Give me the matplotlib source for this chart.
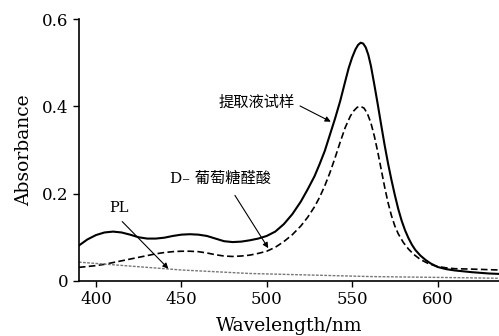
import matplotlib
matplotlib.use("Agg")
import matplotlib.pyplot as plt

# extract sample (solid)
wl_sample = [390, 395, 400, 405, 410, 415, 420, 425, 430, 435, 440, 445, 450, 455,
             460, 465, 470, 475, 480, 485, 490, 495, 500, 505, 510, 515, 520, 524,
             528, 531, 534, 537, 540, 543, 546, 548, 550, 552, 553.5, 555, 556.5,
             558, 559.5, 561, 563, 565, 567, 569, 571, 573, 575, 577, 579, 581,
             583, 585, 587, 590, 593, 596, 600, 605, 610, 620, 630, 636]
abs_sample = [0.081, 0.095, 0.105, 0.111, 0.113, 0.111, 0.106, 0.100, 0.097, 0.097,
              0.099, 0.103, 0.106, 0.107, 0.106, 0.103, 0.097, 0.091, 0.089, 0.090,
              0.093, 0.097, 0.103, 0.113, 0.130, 0.153, 0.182, 0.210, 0.240, 0.268,
              0.298, 0.335, 0.372, 0.412, 0.458, 0.488, 0.512, 0.531, 0.541, 0.546,
              0.544, 0.535, 0.518, 0.493, 0.450, 0.405, 0.358, 0.312, 0.270, 0.232,
              0.197, 0.165, 0.138, 0.116, 0.098, 0.083, 0.071, 0.058, 0.048, 0.040,
              0.032, 0.027, 0.024, 0.020, 0.017, 0.016]

# D-glucuronic acid (dashed)
wl_gluc = [390, 395, 400, 405, 410, 415, 420, 425, 430, 435, 440, 445, 450, 455,
           460, 465, 470, 475, 480, 485, 490, 495, 500, 505, 510, 515, 520, 524,
           528, 531, 534, 537, 540, 543, 546, 549, 551, 553, 555, 557, 559, 561,
           563, 565, 567, 569, 571, 573, 575, 577, 580, 583, 586, 590, 595, 600,
           605, 610, 620, 636]
abs_gluc = [0.031, 0.033, 0.035, 0.038, 0.042, 0.046, 0.050, 0.054, 0.058, 0.062,
            0.065, 0.067, 0.068, 0.068, 0.067, 0.064, 0.060, 0.057, 0.056, 0.057,
            0.059, 0.063, 0.068, 0.077, 0.090, 0.106, 0.126, 0.146, 0.170, 0.192,
            0.218, 0.248, 0.282, 0.318, 0.352, 0.378, 0.390, 0.398, 0.400, 0.396,
            0.383, 0.362, 0.332, 0.296, 0.256, 0.216, 0.180, 0.150, 0.126, 0.108,
            0.088, 0.073, 0.061, 0.049, 0.039, 0.033, 0.030, 0.028, 0.027, 0.025]

# PL (grey dotted)
wl_pl = [390, 400, 410, 420, 430, 440, 450, 460, 470, 480, 490, 500, 520, 540,
         560, 580, 600, 620, 636]
abs_pl = [0.043, 0.040, 0.037, 0.034, 0.031, 0.028, 0.025, 0.023, 0.021, 0.019,
          0.017, 0.016, 0.014, 0.012, 0.010, 0.009, 0.008, 0.007, 0.006]

xticks = [400, 450, 500, 550, 600]
yticks = [0, 0.2, 0.4, 0.6]
ytick_labels = ["0", "0.2", "0.4", "0.6"]

serif = "DejaVu Serif"
mixed = ["DejaVu Serif", "Noto Sans CJK SC"]

fig = plt.figure(figsize=(4.99, 3.36), dpi=100)
ax = fig.add_axes([0.158, 0.164, 0.842, 0.779])

ax.plot(wl_sample, abs_sample, color="black", lw=1.5)
ax.plot(wl_gluc, abs_gluc, color="black", lw=1.2, dashes=(4, 2))
ax.plot(wl_pl, abs_pl, color="#777777", lw=1.0, dashes=(2, 1))

ax.set_xlim(390, 636)
ax.set_ylim(0, 0.6)
ax.set_xticks(xticks)
ax.set_yticks(yticks)
ax.set_yticklabels(ytick_labels)

for s in ["top", "right"]:
    ax.spines[s].set_visible(False)
for s in ["left", "bottom"]:
    ax.spines[s].set_linewidth(1.2)

ax.tick_params(direction="out", length=4, width=1, labelsize=12)
for lab in ax.get_xticklabels() + ax.get_yticklabels():
    lab.set_family(serif)

ax.set_xlabel("Wavelength/nm", family=serif, fontsize=13.5, labelpad=6)
ax.set_ylabel("Absorbance", family=serif, fontsize=13.5, labelpad=6)

arrow = dict(arrowstyle="-|>", color="black", lw=0.8,
             mutation_scale=8, shrinkA=0, shrinkB=0)

ax.text(494.3, 0.409, "提取液试样", family="Noto Sans CJK SC", fontsize=11,
        fontweight="medium", ha="center", va="center")
ax.annotate("", xy=(537.5, 0.365), xytext=(519.5, 0.401), arrowprops=arrow)

ax.text(473.2, 0.233, "D\u2013 葡萄糖醛酸", family=mixed, fontsize=11,
        fontweight="medium", ha="center", va="center")
ax.annotate("", xy=(500.9, 0.075), xytext=(481.4, 0.196), arrowprops=arrow)

ax.text(413.5, 0.166, "PL", family=serif, fontsize=10.5, ha="center", va="center")
ax.annotate("", xy=(442.4, 0.028), xytext=(415.4, 0.136), arrowprops=arrow)

fig.savefig("out.png", dpi=100)
